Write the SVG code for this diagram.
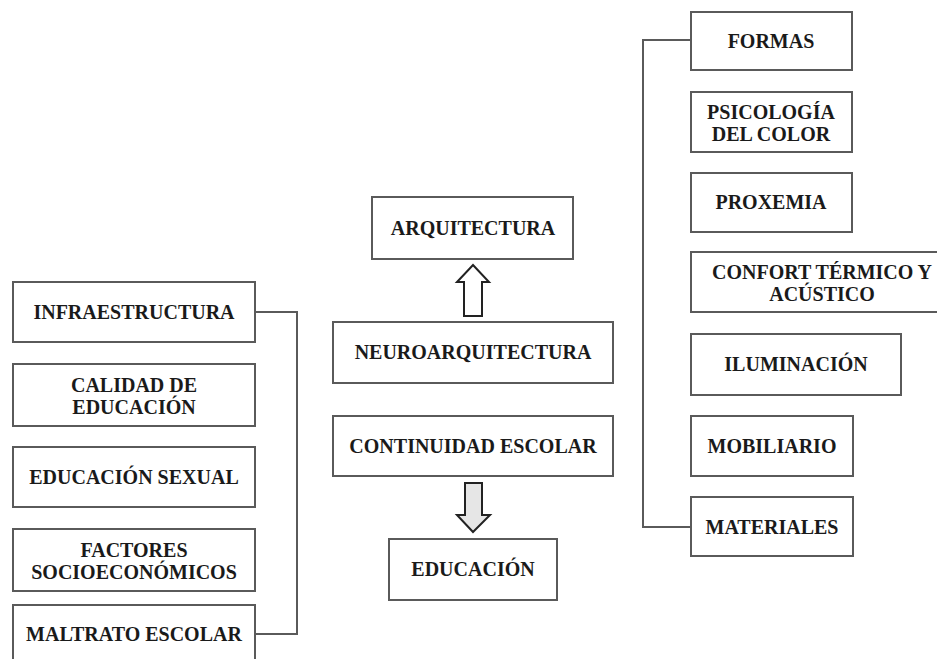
<svg xmlns="http://www.w3.org/2000/svg" width="937" height="659" viewBox="0 0 937 659">
<style>
.box{fill:#fff;stroke:#5a5a5a;stroke-width:2}
.t{font-family:"Liberation Serif","Times New Roman",serif;font-weight:bold;font-size:20px;fill:#1a1a1a;text-anchor:middle}
.c{fill:none;stroke:#5a5a5a;stroke-width:2}
.arr{stroke:#222;stroke-width:2;stroke-linejoin:miter}
</style>
<rect width="937" height="659" fill="#fff"/>
<g id="connectors">
<polyline class="c" points="255,312 297,312 297,634 255,634"/>
<polyline class="c" points="691,40 643,40 643,527 691,527"/>
<path class="arr" fill="#fff" d="M473,265 L489,282 L482,282 L482,316 L464,316 L464,282 L457,282 Z"/>
<path class="arr" fill="#e6e6e6" d="M465,483 L482,483 L482,515 L490,515 L473,532 L457,515 L465,515 Z"/>
</g>
<g id="infraestructura"><rect class="box" x="13" y="282" width="242" height="60"/><text class="t" x="134" y="319">INFRAESTRUCTURA</text></g>
<g id="calidad"><rect class="box" x="13" y="364" width="242" height="62"/><text class="t" x="134" y="392">CALIDAD DE</text><text class="t" x="134" y="414">EDUCACIÓN</text></g>
<g id="educacion-sexual"><rect class="box" x="13" y="447" width="242" height="60"/><text class="t" x="134" y="484">EDUCACIÓN SEXUAL</text></g>
<g id="factores"><rect class="box" x="13" y="529" width="242" height="62"/><text class="t" x="134" y="557">FACTORES</text><text class="t" x="134" y="579">SOCIOECONÓMICOS</text></g>
<g id="maltrato"><rect class="box" x="13" y="605" width="242" height="62"/><text class="t" x="134" y="641">MALTRATO ESCOLAR</text></g>
<g id="arquitectura"><rect class="box" x="372" y="197" width="201" height="62"/><text class="t" x="473" y="235">ARQUITECTURA</text></g>
<g id="neuroarquitectura"><rect class="box" x="333" y="322" width="280" height="61"/><text class="t" x="473" y="359">NEUROARQUITECTURA</text></g>
<g id="continuidad"><rect class="box" x="333" y="416" width="280" height="60"/><text class="t" x="473" y="453">CONTINUIDAD ESCOLAR</text></g>
<g id="educacion"><rect class="box" x="389" y="539" width="168" height="61"/><text class="t" x="473" y="576">EDUCACIÓN</text></g>
<g id="formas"><rect class="box" x="691" y="12" width="161" height="58"/><text class="t" x="771" y="48">FORMAS</text></g>
<g id="psicologia"><rect class="box" x="691" y="92" width="161" height="60"/><text class="t" x="771" y="119">PSICOLOGÍA</text><text class="t" x="771" y="141">DEL COLOR</text></g>
<g id="proxemia"><rect class="box" x="691" y="173" width="161" height="59"/><text class="t" x="771" y="209">PROXEMIA</text></g>
<g id="confort"><rect class="box" x="691" y="252" width="262" height="60"/><text class="t" x="822" y="279">CONFORT TÉRMICO Y</text><text class="t" x="822" y="301">ACÚSTICO</text></g>
<g id="iluminacion"><rect class="box" x="691" y="334" width="210" height="61"/><text class="t" x="796" y="371">ILUMINACIÓN</text></g>
<g id="mobiliario"><rect class="box" x="691" y="416" width="162" height="60"/><text class="t" x="772" y="453">MOBILIARIO</text></g>
<g id="materiales"><rect class="box" x="691" y="497" width="162" height="59"/><text class="t" x="772" y="534">MATERIALES</text></g>
</svg>
